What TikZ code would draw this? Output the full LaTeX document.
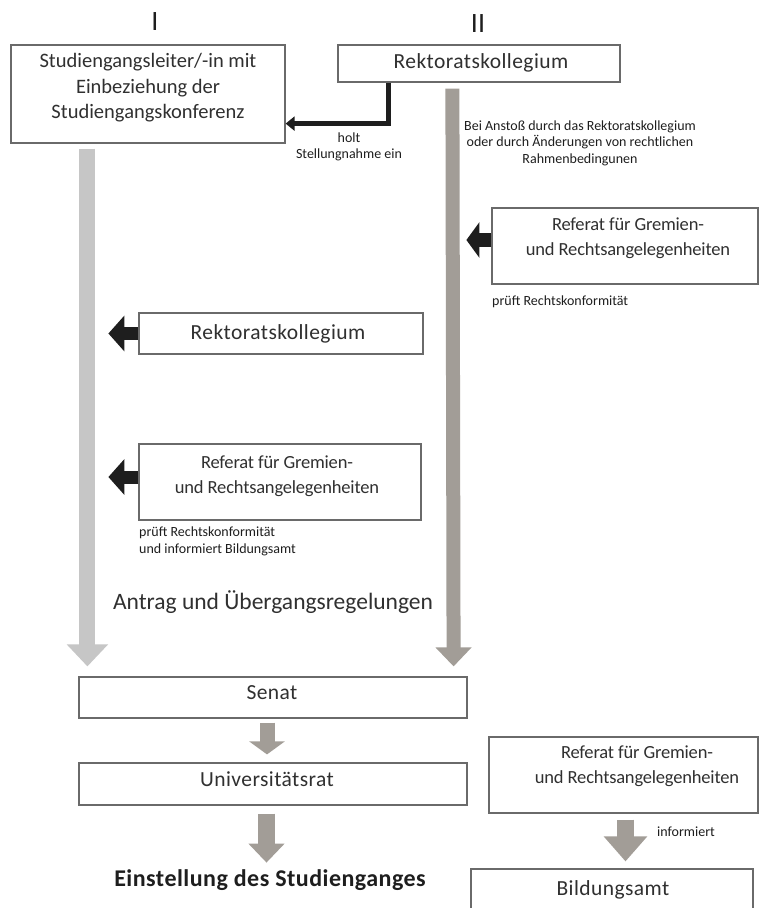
\documentclass[tikz,border=0pt]{standalone}
\usepackage{fontspec}
\setmainfont{Carlito}
\usetikzlibrary{arrows.meta}
\definecolor{lgray}{HTML}{C6C6C6}
\definecolor{wgray}{HTML}{A29D97}
\definecolor{bordergray}{HTML}{6A6A6A}
\definecolor{inkblack}{HTML}{1E1E1E}
\definecolor{txtgray}{HTML}{303030}
\begin{document}
\begin{tikzpicture}[x=1pt,y=-1pt,
  box/.style={draw=bordergray, line width=1.2pt, fill=white, inner sep=0pt},
  bt/.style={font=\fontsize{21.5}{25}\selectfont\addfontfeature{LetterSpace=2}, align=center, text=txtgray, inner sep=0pt},
  ht/.style={font=\fontsize{20.5}{25.5}\selectfont, align=center, text=txtgray, inner sep=0pt},
  rt/.style={font=\fontsize{18.5}{25}\selectfont\addfontfeature{LetterSpace=-1}, align=center, text=txtgray, inner sep=0pt},
  st/.style={font=\fontsize{14}{16.5}\selectfont, align=center, text=inkblack, inner sep=0pt},
  blk/.style={draw=inkblack, line width=13pt, -{Triangle[length=16pt,width=35pt]}},
  bigl/.style={draw=lgray, line width=16pt, -{Triangle[length=22pt,width=40pt]}},
  bigr/.style={draw=wgray, line width=14pt, -{Triangle[length=19pt,width=35pt]}},
  smallarr/.style={draw=wgray, line width=16pt, -{Triangle[length=16pt,width=36pt]}}
]
\clip (0,0) rectangle (759,908);
\fill[white] (0,0) rectangle (759,908);

% column labels
\node[font=\fontsize{28}{28}\selectfont, text=inkblack, inner sep=0pt] (lI) at (155,22) {I};
\node[font=\fontsize{28}{28}\selectfont, text=inkblack, inner sep=0pt] (lII) at (478,24) {II};

% boxes
\node[box, minimum width=274pt, minimum height=98pt] (b1) at (148,94) {};
\node[box, minimum width=282pt, minimum height=37pt] (b2) at (479,63.5) {};
\node[box, minimum width=266pt, minimum height=76pt] (r1) at (625,246) {};
\node[box, minimum width=284pt, minimum height=41pt] (rm) at (281,333.5) {};
\node[box, minimum width=282pt, minimum height=76pt] (rfm) at (280,482) {};
\node[box, minimum width=388pt, minimum height=41pt] (senat) at (273,697.5) {};
\node[box, minimum width=388pt, minimum height=42pt] (uni) at (273,784) {};
\node[box, minimum width=269pt, minimum height=76pt] (rl) at (623.5,775) {};
\node[box, minimum width=282pt, minimum height=46pt] (bild) at (612,892) {};

% box texts
\node[ht] (t1) at (148,88) {Studiengangsleiter/-in mit\\Einbeziehung der\\Studiengangskonferenz};
\node[bt] (t2) at (481,63) {Rektoratskollegium};
\node[rt] (tr1) at (628,238) {Referat für Gremien-\\und Rechtsangelegenheiten};
\node[bt] (trm) at (278,334) {Rektoratskollegium};
\node[rt] (trfm) at (277,476) {Referat für Gremien-\\und Rechtsangelegenheiten};
\node[bt] (tsen) at (272,693) {Senat};
\node[bt] (tuni) at (267,779) {Universitätsrat};
\node[rt] (trl) at (637,766) {Referat für Gremien-\\und Rechtsangelegenheiten};
\node[bt] (tbild) at (613,890) {Bildungsamt};

% small texts
\node[st] (holt) at (349,147) {holt\\Stellungnahme ein};
\node[st] (anstoss) at (580,143) {Bei Anstoß durch das Rektoratskollegium\\oder durch Änderungen von rechtlichen\\Rahmenbedingunen};
\node[st, anchor=west] (pr1) at (492,302) {prüft Rechtskonformität};
\node[st, anchor=west, align=left] (pr2) at (139,541.5) {prüft Rechtskonformität\\und informiert Bildungsamt};
\node[st, anchor=west] (inf) at (657,832) {informiert};
\node[font=\fontsize{23.5}{23.5}\selectfont, text=txtgray, inner sep=0pt] (antrag) at (273,602) {Antrag und Übergangsregelungen};
\node[font=\fontsize{24}{24}\selectfont\bfseries\addfontfeature{LetterSpace=2}, text=inkblack, inner sep=0pt] (einst) at (270,880) {Einstellung des Studienganges};

% connectors
\draw[bigl] ([xshift=77pt,yshift=-5pt]b1.south west) -- ([xshift=9pt,yshift=10pt]senat.north west);
\draw[bigr] ([xshift=115pt,yshift=-6pt]b2.south west) -- ([xshift=-14pt,yshift=10pt]senat.north east);
\draw[inkblack, line width=5pt, -{Triangle[length=9pt,width=14pt]}] ([xshift=51pt]b2.south west) |- ([yshift=20pt]b1.south east);
\draw[blk] (rm.west) -- ++(-30,0);
\draw[blk] ([yshift=5pt]rfm.west) -- ++(-30,0);
\draw[blk, line width=14pt, -{Triangle[length=13pt,width=35pt]}] ([yshift=6pt]r1.west) -- ++(-25,0);
\draw[smallarr, line width=15pt, -{Triangle[length=13pt,width=35pt]}] ([xshift=-6pt,yshift=-4pt]senat.south) -- ([xshift=-6pt,yshift=8pt]uni.north);
\draw[smallarr, line width=17pt, -{Triangle[length=19pt,width=35pt]}] ([xshift=-6.5pt,yshift=-8pt]uni.south) -- ++(0,49);
\draw[smallarr, line width=17pt, -{Triangle[length=25pt,width=42pt]}] ([xshift=2pt,yshift=-6pt]rl.south) -- ([xshift=13.5pt,yshift=7pt]bild.north);
\end{tikzpicture}
\end{document}
